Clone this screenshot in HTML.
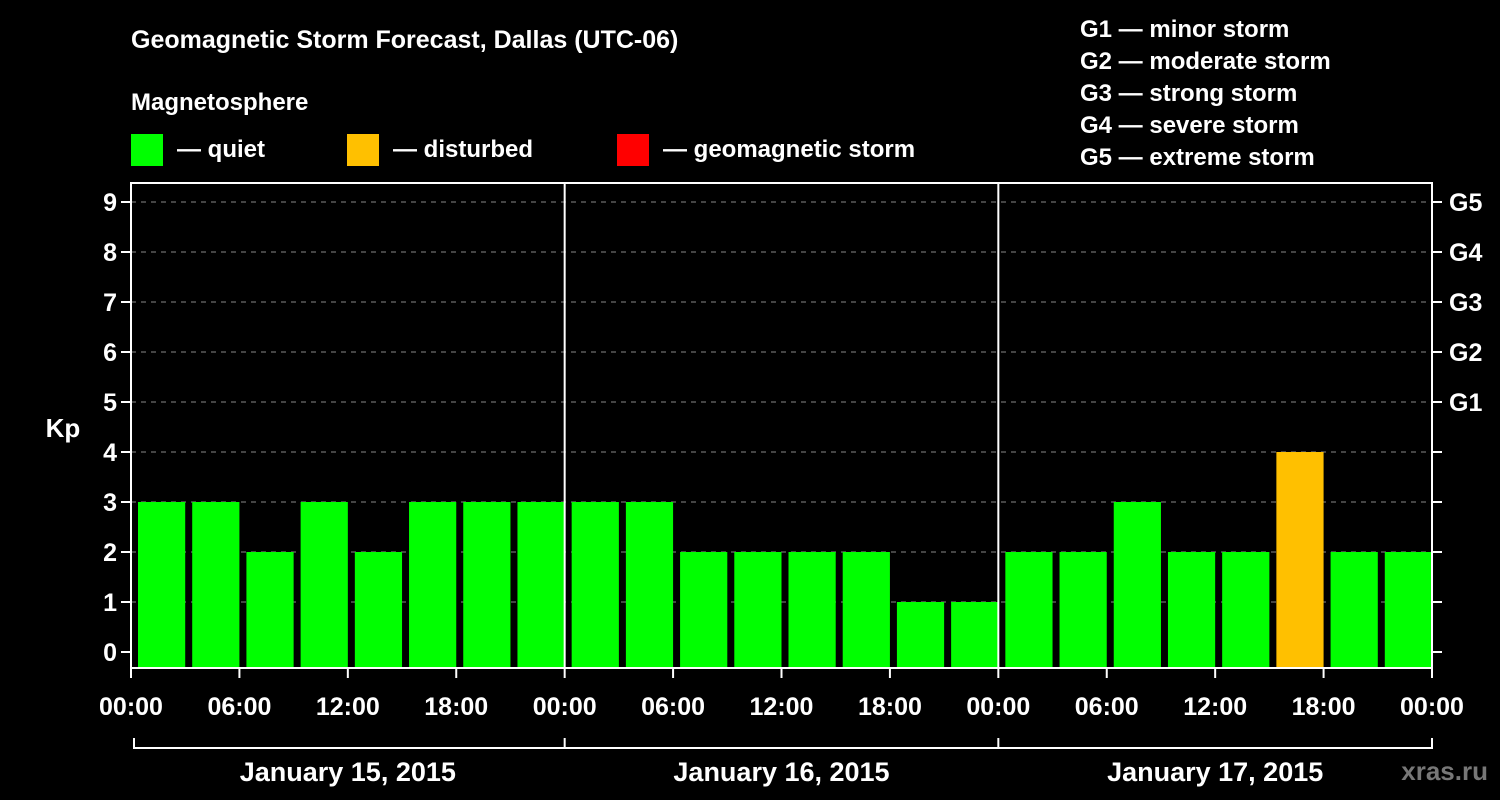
<!DOCTYPE html>
<html><head><meta charset="utf-8"><style>
body{margin:0;background:#000;}
svg{display:block;font-family:"Liberation Sans",Arial,sans-serif;font-weight:bold;}
</style></head><body>
<svg id="c" width="1500" height="800" viewBox="0 0 1500 800">
<rect width="1500" height="800" fill="#000"/>
<text x="131" y="48" fill="#fff" font-size="25">Geomagnetic Storm Forecast, Dallas (UTC-06)</text>
<text x="131" y="110" fill="#fff" font-size="24">Magnetosphere</text>
<g><rect x="131" y="134" width="32" height="32" fill="#00ff00"/><text x="177" y="157" fill="#fff" font-size="24">— quiet</text></g>
<g><rect x="347" y="134" width="32" height="32" fill="#ffc000"/><text x="393" y="157" fill="#fff" font-size="24">— disturbed</text></g>
<g><rect x="617" y="134" width="32" height="32" fill="#ff0000"/><text x="663" y="157" fill="#fff" font-size="24">— geomagnetic storm</text></g>
<g font-size="24" fill="#fff">
<text x="1080" y="37">G1 — minor storm</text>
<text x="1080" y="69">G2 — moderate storm</text>
<text x="1080" y="101">G3 — strong storm</text>
<text x="1080" y="133">G4 — severe storm</text>
<text x="1080" y="165">G5 — extreme storm</text>
</g>
<text x="63" y="437" fill="#fff" font-size="26" text-anchor="middle">Kp</text>
<text x="1488" y="780" fill="#777" font-size="26" text-anchor="end">xras.ru</text>
<g id="grid"></g><g id="bars"></g><g id="axes"></g>
</svg>
<script>
const kpValues=[3,3,2,3,2,3,3,3, 3,3,2,2,2,2,1,1, 2,2,3,2,2,4,2,2];
const yTicks=[0,1,2,3,4,5,6,7,8,9];
const gLabels=["G1","G2","G3","G4","G5"];
const hourLabels=["00:00","06:00","12:00","18:00","00:00","06:00","12:00","18:00","00:00","06:00","12:00","18:00","00:00"];
const dayLabels=["January 15, 2015","January 16, 2015","January 17, 2015"];
const NS="http://www.w3.org/2000/svg";
const L=131,R=1432,T=183,B=668;
const slot=(R-L)/24;
const y=v=>652-50*v;
const x=i=>L+slot*i;
function mk(tag,attrs,parent,text){const e=document.createElementNS(NS,tag);for(const k in attrs)e.setAttribute(k,attrs[k]);if(text!==undefined)e.textContent=text;document.getElementById(parent).appendChild(e);return e;}
yTicks.forEach(v=>{
  if(v>0){const g=mk('line',{x1:L,x2:R,y1:y(v),y2:y(v),stroke:'#888','stroke-dasharray':'5,5','stroke-width':1},'grid');
  
  }
  const t=mk('line',{x1:L-10,x2:L,y1:y(v),y2:y(v),stroke:'#fff','stroke-width':2},'axes');
  
  
  const t2=mk('line',{x1:R,x2:R+10,y1:y(v),y2:y(v),stroke:'#fff','stroke-width':2},'axes');
  
  
  const lb=mk('text',{x:L-14,y:y(v)+9,fill:'#fff','font-size':25,'text-anchor':'end'},'axes',String(v));
  
  
});
gLabels.forEach((g,i)=>{
  const lb=mk('text',{x:R+17,y:y(5+i)+9,fill:'#fff','font-size':25},'axes',g);
  
  
});
kpValues.forEach((v,i)=>{
  const col=v>=5?'#ff0000':(v>=4?'#ffc000':'#00ff00');
  const r=mk('rect',{x:x(i)+7,y:y(v),width:slot-7,height:B-y(v),fill:col},'bars');
  
  
});
const fr=mk('rect',{x:L,y:T,width:R-L,height:B-T,fill:'none',stroke:'#fff','stroke-width':2},'axes');


[8,16].forEach(i=>{
  const d=mk('line',{x1:x(i),x2:x(i),y1:T,y2:B,stroke:'#fff','stroke-width':2},'axes');
  
  
});
hourLabels.forEach((h,k)=>{
  const xi=x(k*2);
  const t=mk('line',{x1:xi,x2:xi,y1:B,y2:B+10,stroke:'#fff','stroke-width':2},'axes');
  
  
  const lb=mk('text',{x:xi,y:715,fill:'#fff','font-size':25,'text-anchor':'middle'},'axes',h);
  
  
});
const br=mk('path',{d:`M${L+3},738V748H${R}V738`,fill:'none',stroke:'#fff','stroke-width':2},'axes');


dayLabels.forEach((d,i)=>{
  const s=mk('line',{x1:x(8*i+8),x2:x(8*i+8),y1:738,y2:748,stroke:'#fff','stroke-width':2},'axes');
  
  
  const lb=mk('text',{x:x(8*i+4),y:781,fill:'#fff','font-size':27,'text-anchor':'middle'},'axes',d);
  
  
});
</script>
</body></html>
